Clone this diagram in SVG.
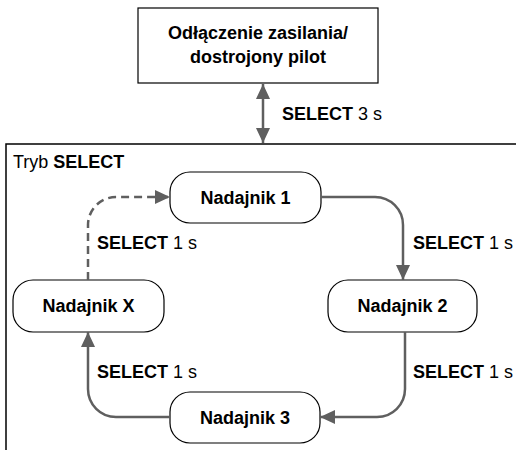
<svg xmlns="http://www.w3.org/2000/svg" width="516" height="450" viewBox="0 0 516 450">
<defs>
<style>
text{font-family:"Liberation Sans",Arial,Helvetica,sans-serif;font-size:18px;fill:#000}
.b{font-weight:bold}
.node{fill:#fff;stroke:#000;stroke-width:1.2}
.con{fill:none;stroke:#5f5f5f;stroke-width:2.5}
.dash{stroke-dasharray:8,5}
</style>
<marker id="ah" markerUnits="userSpaceOnUse" markerWidth="16" markerHeight="14" refX="15" refY="7" orient="auto">
<path d="M0,0 L15,7 L0,14 z" fill="#5f5f5f"/>
</marker>
<marker id="ahs" markerUnits="userSpaceOnUse" markerWidth="16" markerHeight="14" refX="0" refY="7" orient="auto">
<path d="M15,0 L0,7 L15,14 z" fill="#5f5f5f"/>
</marker>
</defs>
<rect width="516" height="450" fill="#fff"/>
<path d="M6,450 V144 H516" fill="none" stroke="#000" stroke-width="1.5"/>
<text x="13" y="168">Tryb <tspan class="b">SELECT</tspan></text>
<g id="power">
<rect class="node" x="138" y="8" width="240" height="75"/>
<text class="b" x="258" y="39" text-anchor="middle">Odłączenie zasilania/</text>
<text class="b" x="258" y="63" text-anchor="middle">dostrojony pilot</text>
</g>
<g id="n1">
<rect class="node" x="170" y="172" width="151" height="51" rx="20"/>
<text class="b" x="245.5" y="204" text-anchor="middle">Nadajnik 1</text>
</g>
<g id="n2">
<rect class="node" x="328" y="280" width="149" height="52" rx="20"/>
<text class="b" x="402.5" y="312" text-anchor="middle">Nadajnik 2</text>
</g>
<g id="n3">
<rect class="node" x="170" y="392" width="150" height="51" rx="20"/>
<text class="b" x="245" y="424" text-anchor="middle">Nadajnik 3</text>
</g>
<g id="nx">
<rect class="node" x="13" y="280" width="151" height="52" rx="20"/>
<text class="b" x="88.5" y="312" text-anchor="middle">Nadajnik X</text>
</g>
<g id="connectors">
<path class="con" d="M263,84 V143" marker-start="url(#ahs)" marker-end="url(#ah)"/>
<path class="con" d="M321,197 H375 A28,28 0 0 1 403,225 V280" marker-end="url(#ah)"/>
<path class="con" d="M405,332 V389 A28,28 0 0 1 377,417 H320" marker-end="url(#ah)"/>
<path class="con" d="M170,417 H116 A28,28 0 0 1 88,389 V332" marker-end="url(#ah)"/>
<path class="con dash" d="M88,280 V225 A28,28 0 0 1 116,197 H170" marker-end="url(#ah)"/>
</g>
<g id="labels">
<text x="282" y="120"><tspan class="b">SELECT</tspan> 3 s</text>
<text x="97" y="249"><tspan class="b">SELECT</tspan> 1 s</text>
<text x="413" y="249"><tspan class="b">SELECT</tspan> 1 s</text>
<text x="97" y="378"><tspan class="b">SELECT</tspan> 1 s</text>
<text x="413" y="378"><tspan class="b">SELECT</tspan> 1 s</text>
</g>
</svg>
